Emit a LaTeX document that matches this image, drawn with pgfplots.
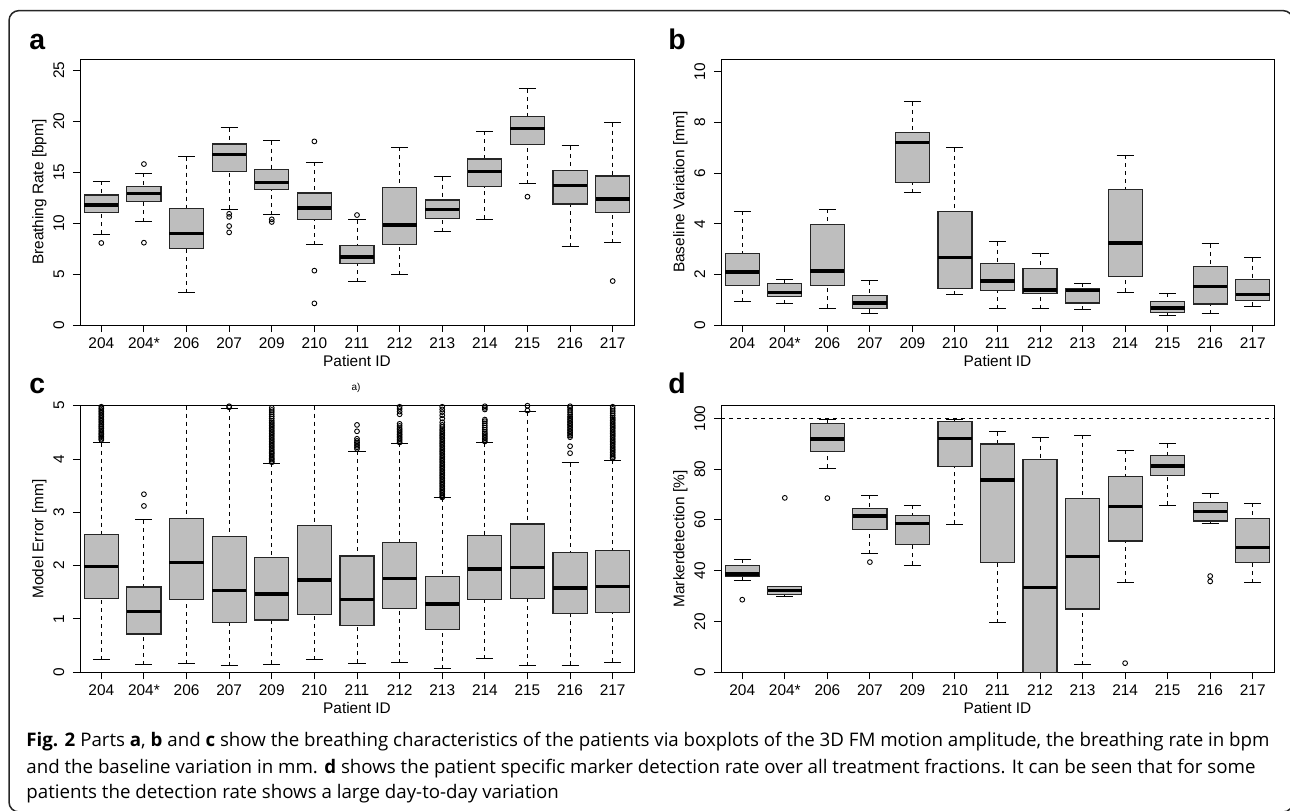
\documentclass[border=0pt]{standalone}
\usepackage{pgfplots}
\pgfplotsset{compat=1.18}
\usepgfplotslibrary{statistics}
\usepackage{fontspec}
\setmainfont{Liberation Sans}
\newfontfamily\capfont{Open Sans}
\definecolor{rgray}{RGB}{190,190,190}

% one R-style box: position, lower whisker, Q1, median, Q3, upper whisker
\newcommand{\bx}[6]{\addplot[bp, boxplot prepared={draw direction=y, draw position=#1,
  lower whisker=#2, lower quartile=#3, median=#4, upper quartile=#5, upper whisker=#6}]}

\pgfplotsset{
  bp/.style={black, solid, line width=0.5pt, mark=o, mark size=1.2pt,
    mark options={solid, line width=0.45pt}},
  boxplot/box extend=0.8,
  boxplot/whisker extend=0.4,
  boxplot/every box/.style={draw=black!85, fill=rgray, line width=0.6pt},
  boxplot/every median/.style={black, line width=1.75pt},
  boxplot/draw/lower whisker/.code={
    \draw[black, line width=0.5pt, dash pattern=on 2pt off 2pt]
      (boxplot box cs:\pgfplotsboxplotvalue{lower whisker},0.5) --
      (boxplot box cs:\pgfplotsboxplotvalue{lower quartile},0.5);
    \draw[black, line width=0.5pt, solid]
      (boxplot whisker cs:\pgfplotsboxplotvalue{lower whisker},0) --
      (boxplot whisker cs:\pgfplotsboxplotvalue{lower whisker},1);
  },
  boxplot/draw/upper whisker/.code={
    \draw[black, line width=0.5pt, dash pattern=on 2pt off 2pt]
      (boxplot box cs:\pgfplotsboxplotvalue{upper whisker},0.5) --
      (boxplot box cs:\pgfplotsboxplotvalue{upper quartile},0.5);
    \draw[black, line width=0.5pt, solid]
      (boxplot whisker cs:\pgfplotsboxplotvalue{upper whisker},0) --
      (boxplot whisker cs:\pgfplotsboxplotvalue{upper whisker},1);
  },
  rpanel/.style={
    scale only axis, width=277pt, height=133pt,
    xmin=0.5, xmax=13.5, ymin=0,
    xtick={1,...,13},
    xticklabels={204,204*,206,207,209,210,211,212,213,214,215,216,217},
    tick align=outside, tick pos=left, major tick length=3.5pt,
    tick style={black, line width=0.5pt},
    axis line style={black, line width=0.5pt},
    /pgf/number format/assume math mode=true,
    every tick label/.append style={font=\fontsize{7.7}{9}\selectfont},
    label style={font=\fontsize{7.7}{9}\selectfont},
    xticklabel style={anchor=north, inner sep=0pt, yshift=-2.7pt},
    yticklabel style={inner sep=0pt, xshift=-4.2pt, rotate=90, anchor=south},
    xlabel={Patient ID},
    xlabel style={at={(axis description cs:0.5,0)}, anchor=center, yshift=-17.75pt},
    ylabel style={at={(axis description cs:-0.0735,0.5)}, anchor=center},
  },
}

\begin{document}
\begin{tikzpicture}
\useasboundingbox (0,0) rectangle (645pt,405pt);
\draw[black!85, line width=0.75pt, rounded corners=5pt] (4.5pt,-1pt) rectangle (646.5pt,399.7pt);

% ---------------- a
\begin{axis}[rpanel, at={(40pt,242.5pt)}, anchor=south west, height=132.85pt,
  ymax=26.05, ytick={0,5,...,25}, ylabel={Breathing Rate [bpm]}]
\bx{1}{8.9}{11.05}{11.76}{12.75}{14.1} table[row sep=\\,y index=0] {v\\ 8.04\\};
\bx{2}{10.13}{12.12}{12.9}{13.56}{14.9} table[row sep=\\,y index=0] {v\\ 15.78\\ 8.07\\};
\bx{3}{3.17}{7.52}{8.99}{11.4}{16.5} coordinates {};
\bx{4}{11.37}{15.03}{16.73}{17.75}{19.35} table[row sep=\\,y index=0] {v\\ 10.9\\ 10.6\\ 9.7\\ 9.08\\};
\bx{5}{10.82}{13.3}{13.99}{15.26}{18.07} table[row sep=\\,y index=0] {v\\ 10.36\\ 10.1\\};
\bx{6}{7.88}{10.36}{11.47}{12.94}{15.95} table[row sep=\\,y index=0] {v\\ 18.0\\ 5.33\\ 2.12\\};
\bx{7}{4.25}{6.01}{6.67}{7.81}{10.33} table[row sep=\\,y index=0] {v\\ 10.78\\};
\bx{8}{4.93}{7.9}{9.8}{13.46}{17.45} coordinates {};
\bx{9}{9.15}{10.42}{11.34}{12.25}{14.54} coordinates {};
\bx{10}{10.39}{13.56}{15.03}{16.27}{19.02} coordinates {};
\bx{11}{13.86}{17.68}{19.25}{20.46}{23.14} table[row sep=\\,y index=0] {v\\ 12.58\\};
\bx{12}{7.68}{11.86}{13.66}{15.13}{17.55} coordinates {};
\bx{13}{8.07}{11.01}{12.35}{14.61}{19.84} table[row sep=\\,y index=0] {v\\ 4.31\\};
\end{axis}

% ---------------- b
\begin{axis}[rpanel, at={(360.5pt,242.5pt)}, anchor=south west, width=276.5pt, height=132.85pt,
  ymax=10.5, ytick={0,2,...,10}, ylabel={Baseline Variation [mm]}]
\bx{1}{0.92}{1.55}{2.09}{2.83}{4.49} coordinates {};
\bx{2}{0.84}{1.13}{1.29}{1.64}{1.78} coordinates {};
\bx{3}{0.67}{1.55}{2.13}{3.96}{4.58} coordinates {};
\bx{4}{0.46}{0.66}{0.87}{1.18}{1.74} coordinates {};
\bx{5}{5.22}{5.63}{7.22}{7.61}{8.82} coordinates {};
\bx{6}{1.20}{1.45}{2.66}{4.49}{7.00} coordinates {};
\bx{7}{0.64}{1.37}{1.74}{2.43}{3.29} coordinates {};
\bx{8}{0.64}{1.25}{1.39}{2.24}{2.84} coordinates {};
\bx{9}{0.60}{0.87}{1.37}{1.42}{1.64} coordinates {};
\bx{10}{1.30}{1.92}{3.25}{5.34}{6.70} coordinates {};
\bx{11}{0.39}{0.50}{0.68}{0.93}{1.25} coordinates {};
\bx{12}{0.45}{0.83}{1.53}{2.30}{3.21} coordinates {};
\bx{13}{0.75}{0.97}{1.20}{1.80}{2.66} coordinates {};
\end{axis}

% ---------------- c
\begin{axis}[rpanel, at={(40pt,68.85pt)}, anchor=south west, height=133.3pt,
  ymax=5, ytick={0,...,5}, ylabel={Model Error [mm]}]
\bx{1}{0.24}{1.39}{1.98}{2.58}{4.31} table[row sep=\\,y index=0] {v\\ 4.36\\ 4.38\\ 4.41\\ 4.43\\ 4.46\\ 4.48\\ 4.51\\ 4.54\\ 4.57\\ 4.60\\ 4.62\\ 4.65\\ 4.68\\ 4.71\\ 4.74\\ 4.77\\ 4.80\\ 4.83\\ 4.86\\ 4.89\\ 4.92\\ 4.95\\ 4.98\\};
\bx{2}{0.14}{0.72}{1.14}{1.60}{2.86} table[row sep=\\,y index=0] {v\\ 3.12\\ 3.34\\};
\bx{3}{0.16}{1.36}{2.06}{2.88}{5.6} coordinates {};
\bx{4}{0.12}{0.93}{1.53}{2.54}{4.95} table[row sep=\\,y index=0] {v\\ 4.97\\ 4.99\\};
\bx{5}{0.15}{0.98}{1.47}{2.15}{3.92} table[row sep=\\,y index=0] {v\\ 3.94\\ 3.96\\ 3.99\\ 4.01\\ 4.04\\ 4.07\\ 4.10\\ 4.12\\ 4.15\\ 4.18\\ 4.21\\ 4.24\\ 4.27\\ 4.30\\ 4.33\\ 4.36\\ 4.39\\ 4.42\\ 4.45\\ 4.48\\ 4.51\\ 4.54\\ 4.57\\ 4.60\\ 4.63\\ 4.66\\ 4.69\\ 4.72\\ 4.76\\ 4.80\\ 4.84\\ 4.88\\ 4.92\\ 4.96\\};
\bx{6}{0.24}{1.09}{1.73}{2.76}{5.6} coordinates {};
\bx{7}{0.17}{0.88}{1.37}{2.18}{4.15} table[row sep=\\,y index=0] {v\\ 4.19\\ 4.22\\ 4.25\\ 4.28\\ 4.31\\ 4.34\\ 4.38\\ 4.52\\ 4.64\\};
\bx{8}{0.18}{1.19}{1.76}{2.43}{4.30} table[row sep=\\,y index=0] {v\\ 4.31\\ 4.34\\ 4.37\\ 4.40\\ 4.43\\ 4.46\\ 4.49\\ 4.52\\ 4.55\\ 4.58\\ 4.62\\ 4.66\\ 4.84\\ 4.89\\ 4.94\\ 4.98\\};
\bx{9}{0.07}{0.80}{1.28}{1.79}{3.27} table[row sep=\\,y index=0] {v\\ 3.28\\ 3.30\\ 3.33\\ 3.36\\ 3.39\\ 3.42\\ 3.45\\ 3.48\\ 3.51\\ 3.54\\ 3.57\\ 3.60\\ 3.63\\ 3.66\\ 3.69\\ 3.72\\ 3.75\\ 3.78\\ 3.81\\ 3.84\\ 3.87\\ 3.90\\ 3.93\\ 3.96\\ 3.99\\ 4.02\\ 4.05\\ 4.08\\ 4.11\\ 4.14\\ 4.17\\ 4.20\\ 4.23\\ 4.26\\ 4.29\\ 4.32\\ 4.35\\ 4.38\\ 4.41\\ 4.44\\ 4.47\\ 4.50\\ 4.53\\ 4.56\\ 4.60\\ 4.64\\ 4.69\\ 4.76\\ 4.82\\ 4.88\\ 4.93\\ 4.98\\};
\bx{10}{0.25}{1.37}{1.94}{2.56}{4.31} table[row sep=\\,y index=0] {v\\ 4.33\\ 4.36\\ 4.39\\ 4.42\\ 4.45\\ 4.48\\ 4.51\\ 4.55\\ 4.59\\ 4.63\\ 4.67\\ 4.71\\ 4.74\\ 4.93\\ 4.96\\ 4.99\\};
\bx{11}{0.12}{1.38}{1.97}{2.78}{4.89} table[row sep=\\,y index=0] {v\\ 4.91\\ 5.0\\};
\bx{12}{0.13}{1.11}{1.58}{2.25}{3.93} table[row sep=\\,y index=0] {v\\ 4.11\\ 4.24\\ 4.41\\ 4.44\\ 4.47\\ 4.50\\ 4.53\\ 4.56\\ 4.59\\ 4.62\\ 4.65\\ 4.68\\ 4.71\\ 4.74\\ 4.77\\ 4.80\\ 4.84\\ 4.88\\ 4.92\\ 4.96\\ 4.99\\};
\bx{13}{0.19}{1.12}{1.61}{2.28}{3.98} table[row sep=\\,y index=0] {v\\ 4.01\\ 4.03\\ 4.06\\ 4.09\\ 4.12\\ 4.15\\ 4.18\\ 4.21\\ 4.24\\ 4.27\\ 4.30\\ 4.33\\ 4.36\\ 4.39\\ 4.42\\ 4.45\\ 4.48\\ 4.51\\ 4.54\\ 4.57\\ 4.60\\ 4.63\\ 4.66\\ 4.69\\ 4.72\\ 4.75\\ 4.78\\ 4.82\\ 4.86\\ 4.90\\ 4.94\\ 4.98\\};
\end{axis}

% ---------------- d
\begin{axis}[rpanel, at={(360.5pt,68.85pt)}, anchor=south west, width=276.5pt, height=133.3pt,
  ymax=105, ytick={0,20,...,100}, ylabel={Markerdetection [\%]}]
\addplot[black, line width=0.5pt, dash pattern=on 2pt off 2pt] coordinates {(0.5,100) (13.5,100)};
\bx{1}{36.2}{37.8}{38.7}{42.2}{44.6} table[row sep=\\,y index=0] {v\\ 28.6\\};
\bx{2}{29.7}{30.7}{32.2}{33.7}{33.9} table[row sep=\\,y index=0] {v\\ 68.7\\};
\bx{3}{80.3}{87.1}{91.8}{97.9}{99.6} table[row sep=\\,y index=0] {v\\ 68.6\\};
\bx{4}{46.7}{56.3}{61.6}{64.6}{69.7} table[row sep=\\,y index=0] {v\\ 43.4\\};
\bx{5}{42.2}{50.4}{58.6}{61.6}{65.7} coordinates {};
\bx{6}{58.3}{80.9}{92.0}{98.8}{99.7} coordinates {};
\bx{7}{19.5}{43.4}{75.7}{89.9}{94.7} coordinates {};
\bx{8}{0}{0}{33.4}{83.9}{92.4} coordinates {};
\bx{9}{3.0}{24.9}{45.7}{68.6}{93.4} coordinates {};
\bx{10}{35.3}{51.7}{65.3}{77.1}{87.5} table[row sep=\\,y index=0] {v\\ 3.6\\};
\bx{11}{65.8}{77.5}{81.2}{85.5}{90.0} coordinates {};
\bx{12}{58.8}{59.6}{63.4}{66.8}{70.4} table[row sep=\\,y index=0] {v\\ 37.9\\ 35.8\\};
\bx{13}{35.3}{43.2}{49.1}{60.5}{66.6} coordinates {};
\end{axis}

% panel letters and notes
\node[anchor=base west, inner sep=0pt, font=\fontsize{14.2}{16}\selectfont\bfseries] at (14.5pt,380pt) {a};
\node[anchor=base west, inner sep=0pt, font=\fontsize{14.2}{16}\selectfont\bfseries] at (334pt,380pt) {b};
\node[anchor=base west, inner sep=0pt, font=\fontsize{14.2}{16}\selectfont\bfseries] at (14.5pt,208.3pt) {c};
\node[anchor=base west, inner sep=0pt, font=\fontsize{14.2}{16}\selectfont\bfseries] at (334pt,208.3pt) {d};
\node[inner sep=0pt, font=\fontsize{5}{6}\selectfont] at (178pt,211pt) {a)};

% caption
\begin{scope}[every node/.style={anchor=base west, inner sep=0pt, font=\capfont\fontsize{9.35}{11}\selectfont}]
\node at (13pt,31.65pt) {\textbf{Fig. 2} Parts \textbf{a}, \textbf{b} and \textbf{c} show the breathing characteristics of the patients via boxplots of the 3D FM motion amplitude, the breathing rate in bpm};
\node at (13pt,18.4pt) {and the baseline variation in mm. \textbf{d} shows the patient specific marker detection rate over all treatment fractions. It can be seen that for some};
\node at (13pt,5.85pt) {patients the detection rate shows a large day-to-day variation};
\end{scope}
\end{tikzpicture}
\end{document}
